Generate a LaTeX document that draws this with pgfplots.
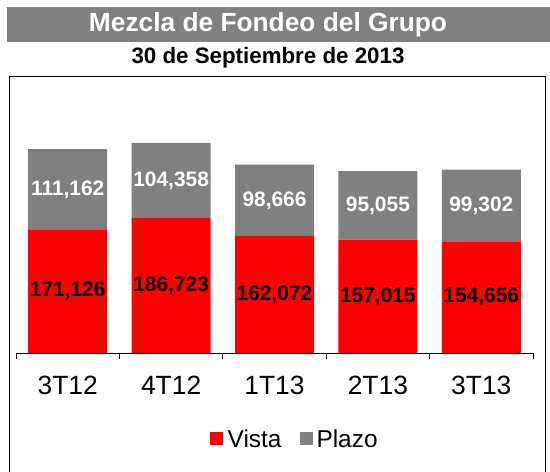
\documentclass[border=0pt]{standalone}
\usepackage{fontspec}
\setmainfont{Liberation Sans}
\usepackage{pgfplots}
\usepackage{pgfplotstable}
\pgfplotsset{compat=1.18}
\definecolor{vista}{RGB}{255,0,0}
\definecolor{plazo}{RGB}{128,128,128}

% quarter, Vista, Plazo (millones)
\pgfplotstableread{
x vista plazo
0 171126 111162
1 186723 104358
2 162072 98666
3 157015 95055
4 154656 99302
}\fondeo

\begin{document}
\begin{tikzpicture}
\useasboundingbox (0,0) rectangle (550bp,472bp);
% title band
\fill[plazo] (7bp,430bp) rectangle (550bp,465bp);
\node[text=white,font=\bfseries\fontsize{26.4}{30}\selectfont] at (268bp,447.5bp) {Mezcla de Fondeo del Grupo};
\node[font=\bfseries\fontsize{22.4}{26}\selectfont] at (268bp,414bp) {30 de Septiembre de 2013};
\draw[line width=1bp] (9bp,-5bp) rectangle (545bp,395bp);
\begin{axis}[
  at={(16bp,119bp)}, anchor=south west,
  scale only axis, width=517bp, height=252.7bp,
  ybar stacked, bar width=79bp,
  xmin=-0.5, xmax=4.5, ymin=0, ymax=350,
  axis x line*=bottom, axis y line=none,
  axis line style={black,line width=0.75bp},
  xtick={0,1,2,3,4}, xticklabels={3T12,4T12,1T13,2T13,3T13},
  extra x ticks={-0.5,0.5,1.5,2.5,3.5,4.5},
  extra x tick labels={},
  extra x tick style={major tick length=6bp},
  major tick length=0pt, tick align=outside,
  tick style={black,line width=0.75bp},
  xticklabel style={font=\fontsize{26.5}{30}\selectfont, yshift=-20bp},
  point meta=explicit,
  nodes near coords,
  /pgf/number format/.cd, fixed, precision=0, 1000 sep={,}, assume math mode=true,
  /pgfplots/.cd,
  every node near coord/.append style={font=\bfseries\fontsize{21}{25}\selectfont,
    anchor=center},
  legend columns=2,
  legend style={at={(0.539,-0.340)}, anchor=center, draw=none, fill=none,
    font=\fontsize{24.5}{28}\selectfont,
    /tikz/every even column/.append style={column sep=16bp}},
  legend image code/.code={\fill[#1] (0bp,-6.5bp) rectangle (13bp,6.5bp);},
  clip=false,
]
% y in thousands for the scale, labels print the full value
\addplot[fill=vista,draw=none,
  every node near coord/.append style={text=black}]
  table[x=x,y expr=\thisrow{vista}/1000,meta=vista]{\fondeo};
\addlegendentry{\hspace{3bp}Vista}
\addplot[fill=plazo,draw=none,
  every node near coord/.append style={text=white}]
  table[x=x,y expr=\thisrow{plazo}/1000,meta=plazo]{\fondeo};
\addlegendentry{\hspace{2bp}Plazo}
\end{axis}
\end{tikzpicture}
\end{document}
